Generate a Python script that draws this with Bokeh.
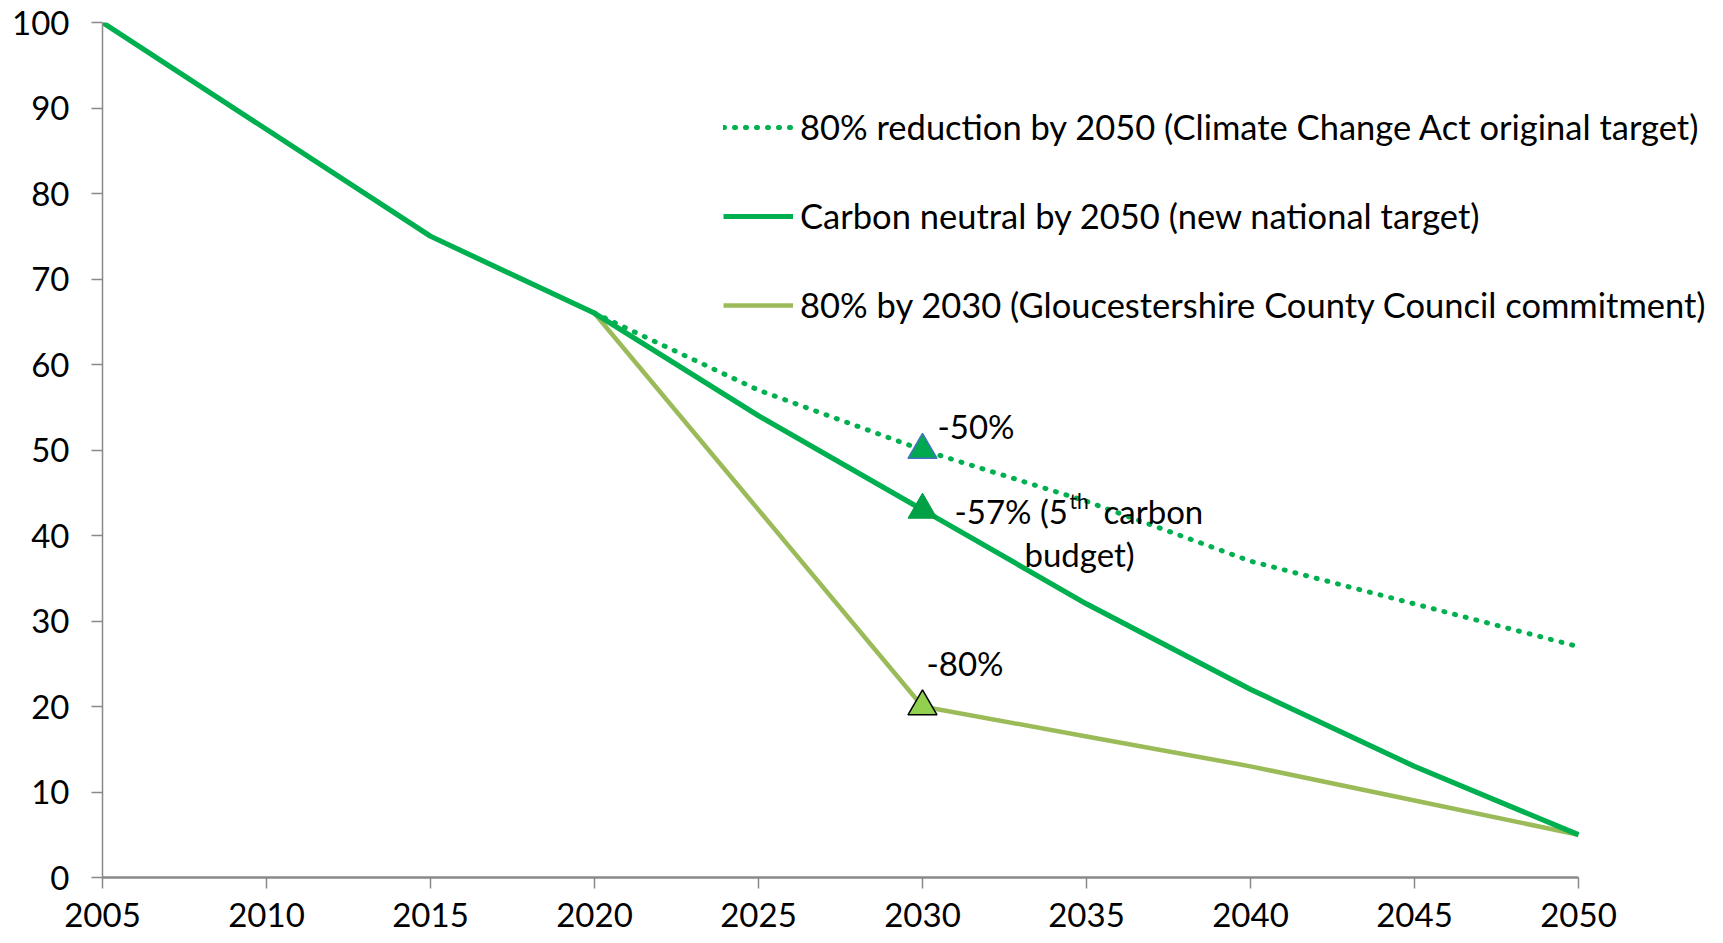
from bokeh.plotting import figure
from bokeh.models import Range1d, Legend, LegendItem, Label, FixedTicker
from bokeh.embed import file_html
from bokeh.resources import INLINE

# ---- data ----
neutral_years = [2005, 2010, 2015, 2020, 2025, 2030, 2035, 2040, 2045, 2050]
neutral_values = [100, 87.5, 75, 66, 54, 43, 32, 22, 13, 5]

cca_years = [2020, 2025, 2030, 2035, 2040, 2045, 2050]
cca_values = [66, 57, 50, 44, 37, 32, 27]

gcc_years = [2020, 2030, 2035, 2040, 2045, 2050]
gcc_values = [66, 20, 16.5, 13, 9, 5]

marker_years = [2030, 2030, 2030]
marker_values = [50, 43, 20]

x_ticks = [2005, 2010, 2015, 2020, 2025, 2030, 2035, 2040, 2045, 2050]
y_ticks = [0, 10, 20, 30, 40, 50, 60, 70, 80, 90, 100]

series_labels = [
    "80% reduction by 2050 (Climate Change Act original target)",
    "Carbon neutral by 2050 (new national target)",
    "80% by 2030 (Gloucestershire County Council commitment)",
]

FONT = "Lato"
TICK_FS = "33px"
LEG_FS = "34.5px"
ANN_FS = "33px"
DARK = "#00B050"
LIGHT = "#9BBB59"

W, H = 1720, 943
LEFT, TOP, BOTTOM, RIGHT = 102, 22, 66, 4
# 2005..2050 spans 1476 px; the frame extends further right to leave room for the legend
frame_w = W - LEFT - RIGHT
x_end = 2005 + 45 * frame_w / 1476.0

p = figure(width=W, height=H, x_range=Range1d(2005, x_end), y_range=Range1d(0, 100),
           output_backend="svg", toolbar_location=None,
           min_border_left=LEFT, min_border_right=RIGHT, min_border_top=TOP, min_border_bottom=BOTTOM)
p.outline_line_color = None
p.xgrid.visible = False
p.ygrid.visible = False
p.background_fill_color = "white"

for ax in (p.xaxis[0], p.yaxis[0]):
    ax.axis_line_color = "#898989"
    ax.major_tick_line_color = "#898989"
    ax.minor_tick_line_color = None
    ax.major_tick_in = 0
    ax.major_tick_out = 11
    ax.major_label_text_font = FONT
    ax.major_label_text_font_size = TICK_FS
    ax.major_label_text_color = "black"
p.xaxis[0].ticker = FixedTicker(ticks=x_ticks)
p.xaxis[0].bounds = (2005, 2050)
p.yaxis[0].ticker = FixedTicker(ticks=y_ticks)
p.xaxis[0].axis_line_width = 2.5
p.xaxis[0].major_tick_line_width = 1.5
p.yaxis[0].axis_line_width = 1.5
p.yaxis[0].major_tick_line_width = 1.5
p.xaxis[0].major_label_standoff = 14
p.yaxis[0].major_label_standoff = 22

r_gcc = p.line(gcc_years, gcc_values, line_color=LIGHT, line_width=4.5)
r_cca = p.line(cca_years, cca_values, line_color=DARK, line_width=5,
               line_dash="1 10", line_cap="round")
r_neu = p.line(neutral_years, neutral_values, line_color=DARK, line_width=5.2)

p.scatter([marker_years[0]], [marker_values[0]], marker="triangle", size=29,
          fill_color="#00A84F", line_color="#4472C4", line_width=1.5)
p.scatter([marker_years[1]], [marker_values[1]], marker="triangle", size=29,
          fill_color="#00A044", line_color="#00A044", line_width=1)
p.scatter([marker_years[2]], [marker_values[2]], marker="triangle", size=29,
          fill_color="#92D050", line_color="black", line_width=1.5)

legend = Legend(items=[
    LegendItem(label=series_labels[0], renderers=[r_cca]),
    LegendItem(label=series_labels[1], renderers=[r_neu]),
    LegendItem(label=series_labels[2], renderers=[r_gcc]),
], location=(621, 552), orientation="vertical",
    border_line_color=None, background_fill_alpha=0, padding=0, margin=0,
    spacing=48, label_height=40, glyph_height=40, glyph_width=70, label_standoff=7,
    label_text_font=FONT, label_text_font_size=LEG_FS, label_text_color="black")
p.add_layout(legend)

def lab(x, y, text, dx, dy, size=ANN_FS, align="left"):
    p.add_layout(Label(x=x, y=y, text=text, x_offset=dx, y_offset=dy,
                       text_font=FONT, text_font_size=size, text_color="black",
                       text_baseline="middle", text_align=align))

lab(marker_years[0], marker_values[0], "-50%", 15, 24)
lab(marker_years[1], marker_values[1], "-57% (5", 32, -1)
lab(marker_years[1], marker_values[1], "th", 147, 9, size="21px")
lab(marker_years[1], marker_values[1], "carbon", 181, -1)
lab(marker_years[1], marker_values[1], "budget)", 157, -44, align="center")
lab(marker_years[2], marker_values[2], "-80%", 4, 44)

open("out.html", "w").write(file_html(p, INLINE))
